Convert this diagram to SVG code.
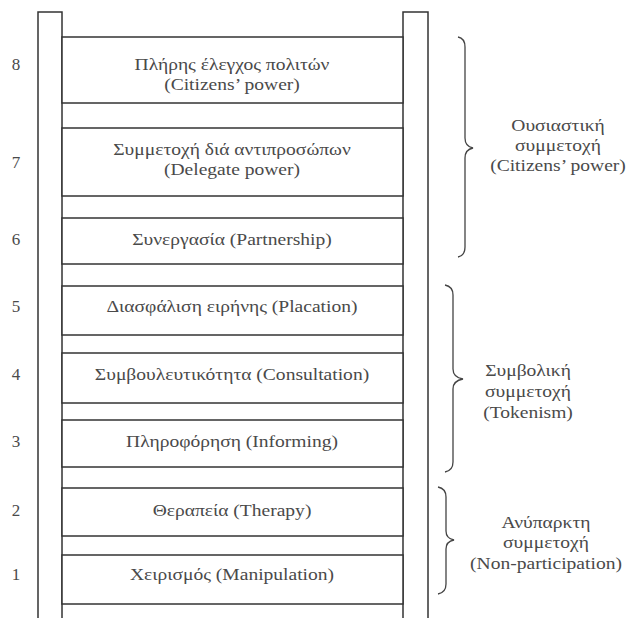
<svg xmlns="http://www.w3.org/2000/svg" width="630" height="618" viewBox="0 0 630 618">
<style>
.rail{fill:#fff;stroke:#333;stroke-width:1.5}
.rung{fill:#fff;stroke:#333;stroke-width:1.5}
.brace{fill:none;stroke:#444;stroke-width:1.3}
text{font-family:"Liberation Serif","DejaVu Serif",serif;font-size:17px;fill:#4a4a4a}
.t{text-anchor:middle}
.n{text-anchor:middle}
</style>
<rect width="630" height="618" fill="#fff"/>
<g id="rails">
<rect class="rail" x="38" y="12" width="24" height="620"/>
<rect class="rail" x="403" y="12" width="25" height="620"/>
</g>
<g id="rung8"><rect class="rung" x="62" y="37" width="341" height="66"/>
<text class="t" transform="matrix(1.15 0 0 1 232 70)">Πλήρης έλεγχος πολιτών</text>
<text class="t" transform="matrix(1.15 0 0 1 232 90)">(Citizens’ power)</text>
<text class="n" x="16" y="70">8</text></g>
<g id="rung7"><rect class="rung" x="62" y="128" width="341" height="68"/>
<text class="t" transform="matrix(1.15 0 0 1 232 155)">Συμμετοχή διά αντιπροσώπων</text>
<text class="t" transform="matrix(1.15 0 0 1 232 175)">(Delegate power)</text>
<text class="n" x="16" y="168">7</text></g>
<g id="rung6"><rect class="rung" x="62" y="218" width="341" height="46"/>
<text class="t" transform="matrix(1.15 0 0 1 232 245)">Συνεργασία (Partnership)</text>
<text class="n" x="16" y="245">6</text></g>
<g id="rung5"><rect class="rung" x="62" y="286" width="341" height="49"/>
<text class="t" transform="matrix(1.15 0 0 1 232 312)">Διασφάλιση ειρήνης (Placation)</text>
<text class="n" x="16" y="312">5</text></g>
<g id="rung4"><rect class="rung" x="62" y="353" width="341" height="50"/>
<text class="t" transform="matrix(1.15 0 0 1 232 380)">Συμβουλευτικότητα (Consultation)</text>
<text class="n" x="16" y="380">4</text></g>
<g id="rung3"><rect class="rung" x="62" y="420" width="341" height="47"/>
<text class="t" transform="matrix(1.15 0 0 1 232 447)">Πληροφόρηση (Informing)</text>
<text class="n" x="16" y="447">3</text></g>
<g id="rung2"><rect class="rung" x="62" y="488" width="341" height="48"/>
<text class="t" transform="matrix(1.15 0 0 1 232 516)">Θεραπεία (Therapy)</text>
<text class="n" x="16" y="516">2</text></g>
<g id="rung1"><rect class="rung" x="62" y="555" width="341" height="49"/>
<text class="t" transform="matrix(1.15 0 0 1 232 580)">Χειρισμός (Manipulation)</text>
<text class="n" x="16" y="580">1</text></g>
<g id="connectors">
<path class="brace" d="M458,37 C463,38 465,41 465,47 L465,138 C465,144 468,147 473,148 C468,149 465,152 465,158 L465,247 C465,253 463,256 458,257"/>
<path class="brace" d="M445,285 C450,286 453,289 453,295 L453,369 C453,375 457,378 463,379 C457,380 453,383 453,389 L453,462 C453,468 450,471 445,472"/>
<path class="brace" d="M438,487 C443,488 446,491 446,497 L446,531 C446,537 449,539 454,540 C449,541 446,543 446,549 L446,584 C446,590 443,593 438,594"/>
</g>
<g id="group-citizens">
<text class="t" transform="matrix(1.15 0 0 1 558 131)">Ουσιαστική</text>
<text class="t" transform="matrix(1.15 0 0 1 558 151)">συμμετοχή</text>
<text class="t" transform="matrix(1.15 0 0 1 558 171)">(Citizens’ power)</text>
</g>
<g id="group-tokenism">
<text class="t" transform="matrix(1.15 0 0 1 528 376)">Συμβολική</text>
<text class="t" transform="matrix(1.15 0 0 1 528 397)">συμμετοχή</text>
<text class="t" transform="matrix(1.15 0 0 1 528 418)">(Tokenism)</text>
</g>
<g id="group-nonpart">
<text class="t" transform="matrix(1.15 0 0 1 546 528)">Ανύπαρκτη</text>
<text class="t" transform="matrix(1.15 0 0 1 546 548)">συμμετοχή</text>
<text class="t" transform="matrix(1.15 0 0 1 546 569)">(Non-participation)</text>
</g>
</svg>
